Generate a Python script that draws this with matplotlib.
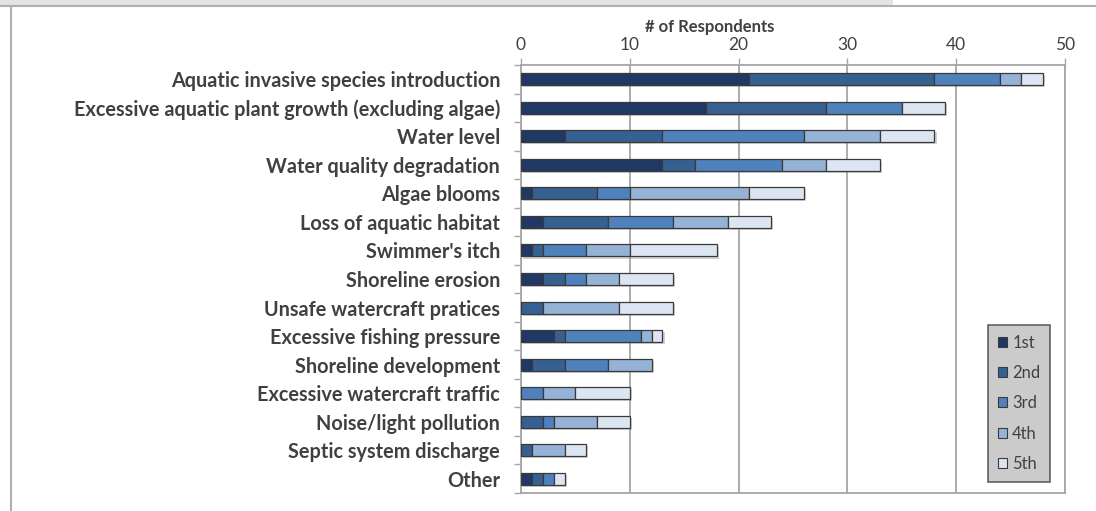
import numpy as np
import matplotlib
matplotlib.use('Agg')
import matplotlib.pyplot as plt
from matplotlib.patches import Patch, Rectangle
from matplotlib.lines import Line2D
from matplotlib import patheffects

plt.rcParams['font.family'] = ['Lato', 'DejaVu Sans']

# Data (top to bottom)
categories = [
    'Aquatic invasive species introduction',
    'Excessive aquatic plant growth (excluding algae)',
    'Water level',
    'Water quality degradation',
    'Algae blooms',
    'Loss of aquatic habitat',
    "Swimmer's itch",
    'Shoreline erosion',
    'Unsafe watercraft pratices',
    'Excessive fishing pressure',
    'Shoreline development',
    'Excessive watercraft traffic',
    'Noise/light pollution',
    'Septic system discharge',
    'Other',
]
first = [21, 17, 4, 13, 1, 2, 1, 2, 0, 3, 1, 0, 0, 0, 1]
second = [17, 11, 9, 3, 6, 6, 1, 2, 2, 1, 3, 0, 2, 1, 1]
third = [6, 7, 13, 8, 3, 6, 4, 2, 0, 7, 4, 2, 1, 0, 1]
fourth = [2, 0, 7, 4, 11, 5, 4, 3, 7, 1, 4, 3, 4, 3, 0]
fifth = [2, 4, 5, 5, 5, 4, 8, 5, 5, 1, 0, 5, 3, 2, 1]
rank_labels = ['1st', '2nd', '3rd', '4th', '5th']
colors = ['#1F3864', '#366092', '#4F81BD', '#95B3D7', '#DCE6F2']

series = [first, second, third, fourth, fifth]
text_col = '#404040'
grid_col = '#A6A6A6'

W, H = 1096, 511
fig = plt.figure(figsize=(W / 100, H / 100), dpi=100)

# frame of the chart area and the strip of the chart above it
fig.add_artist(Rectangle((0, 1 - 5 / H), 893 / W, 5 / H, transform=fig.transFigure,
                         facecolor='#E3E3E3', edgecolor='none'))
fig.add_artist(Line2D([0, 1], [1 - 6 / H] * 2, transform=fig.transFigure,
                      color='#B0B0B0', lw=1.5))
fig.add_artist(Line2D([11 / W, 11 / W], [0, 1 - 6 / H], transform=fig.transFigure,
                      color='#B0B0B0', lw=1.5))

ax = fig.add_axes([521 / W, 1 - 493 / H, (1065 - 521) / W, (493 - 65) / H])

y = np.arange(len(categories))
left = np.zeros(len(categories))
shadow = [patheffects.SimplePatchShadow(offset=(1.5, -1.5), shadow_rgbFace='#808080', alpha=0.35),
          patheffects.Normal()]
for vals, col, lab in zip(series, colors, rank_labels):
    vals = np.array(vals, dtype=float)
    m = vals > 0
    bars = ax.barh(y[m], vals[m], left=left[m], height=0.42, color=col,
                   edgecolor='#3A3A3A', linewidth=0.9, zorder=3)
    for b in bars:
        b.set_path_effects(shadow)
    left += vals

ax.set_xlim(0, 50)
ax.set_ylim(len(categories) - 0.5, -0.5)
ax.set_xticks(np.arange(0, 51, 10))
ax.xaxis.tick_top()
ax.tick_params(axis='x', length=5, color=grid_col, width=1, pad=4,
               labelsize=12.5, labelcolor=text_col)
ax.grid(axis='x', color=grid_col, lw=1.3, zorder=0)

ax.set_yticks(y)
ax.set_yticklabels(categories, fontweight='bold', fontsize=14.3, color=text_col)
ax.set_yticks(np.arange(len(categories) + 1) - 0.5, minor=True)
ax.tick_params(axis='y', which='major', length=0, pad=15)
ax.tick_params(axis='y', which='minor', length=5, color=grid_col, width=1)

for s in ax.spines.values():
    s.set_color(grid_col)
    s.set_linewidth(1.3)

fig.text(710 / W, 1 - 27 / H, '# of Respondents', ha='center', va='center',
         fontsize=12, fontweight='bold', color=text_col)

handles = [Patch(facecolor=c, edgecolor='#3A3A3A', linewidth=0.8) for c in colors]
leg = fig.legend(handles, rank_labels, loc='upper left',
                 bbox_to_anchor=(988 / W, 1 - 325 / H), bbox_transform=fig.transFigure,
                 fontsize=12, frameon=True, fancybox=False, borderaxespad=0,
                 handlelength=0.55, handleheight=0.55, handletextpad=0.3,
                 labelspacing=0.85, borderpad=0.6)
leg.get_frame().set_facecolor('#BFBFBF')
leg.get_frame().set_edgecolor('#404040')
leg.get_frame().set_linewidth(1.2)
for t in leg.get_texts():
    t.set_color(text_col)

fig.savefig('out.png', dpi=100)
